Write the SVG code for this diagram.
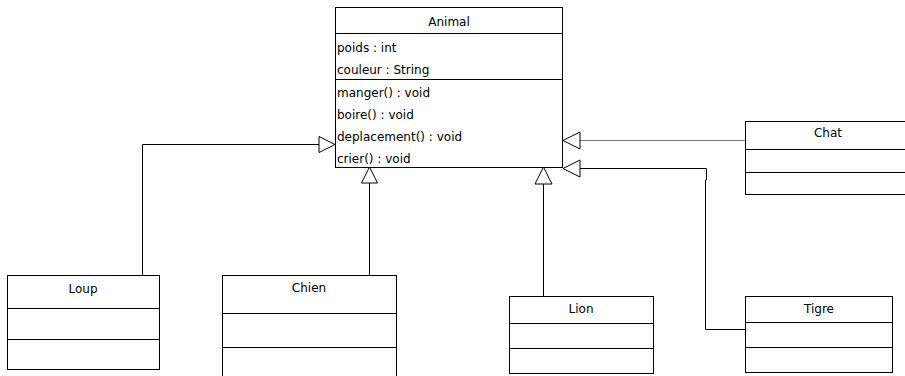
<svg xmlns="http://www.w3.org/2000/svg" width="905" height="376" viewBox="0 0 905 376">
<style>
.box{fill:#fff;stroke:#000;stroke-width:1}
.sep{stroke:#000;stroke-width:1}
.t{font-family:"DejaVu Sans","Liberation Sans",sans-serif;font-size:12px;fill:#000}
.c{text-anchor:middle}
.ln{fill:none;stroke:#000;stroke-width:1}
.hd{fill:#fff;stroke:#000;stroke-width:1}
</style>
<rect width="905" height="376" fill="#fff"/>
<g id="connectors">
<polyline class="ln" points="142.5,275 142.5,144.5 319,144.5"/>
<polygon class="hd" points="335,144.5 319,136.5 319,152.5"/>
<polyline class="ln" points="369.5,275 369.5,183"/>
<polygon class="hd" points="369.5,167 361.5,183 377.5,183"/>
<polyline class="ln" points="543.5,296 543.5,184"/>
<polygon class="hd" points="543.5,167 535,184 552,184"/>
<polyline class="ln" style="stroke:#777" points="745,140.5 580,140.5"/>
<polygon class="hd" points="563,140.5 580,132 580,149"/>
<polyline class="ln" points="745,329.5 705.5,329.5 705.5,180 706.5,180 706.5,168.5 580,168.5"/>
<polygon class="hd" points="563,168.5 580,160 580,177"/>
</g>
<g id="Animal">
<rect class="box" x="335.5" y="7.5" width="227" height="160"/>
<line class="sep" x1="335" y1="33.5" x2="562" y2="33.5"/>
<line class="sep" x1="335" y1="79.5" x2="562" y2="79.5"/>
<text class="t c" x="449" y="26">Animal</text>
<text class="t" x="337" y="52">poids : int</text>
<text class="t" x="337" y="74">couleur : String</text>
<text class="t" x="337" y="97">manger() : void</text>
<text class="t" x="337" y="119">boire() : void</text>
<text class="t" x="337" y="141">deplacement() : void</text>
<text class="t" x="337" y="163">crier() : void</text>
</g>
<g id="Loup">
<rect class="box" x="7.5" y="275.5" width="152" height="94"/>
<line class="sep" x1="7" y1="308.5" x2="160" y2="308.5"/>
<line class="sep" x1="7" y1="339.5" x2="160" y2="339.5"/>
<text class="t c" x="83" y="293">Loup</text>
</g>
<g id="Chien">
<rect class="box" x="222.5" y="275.5" width="174" height="110"/>
<line class="sep" x1="222" y1="313.5" x2="397" y2="313.5"/>
<line class="sep" x1="222" y1="347.5" x2="397" y2="347.5"/>
<text class="t c" x="309" y="292">Chien</text>
</g>
<g id="Lion">
<rect class="box" x="509.5" y="296.5" width="144" height="77"/>
<line class="sep" x1="509" y1="323.5" x2="654" y2="323.5"/>
<line class="sep" x1="509" y1="348.5" x2="654" y2="348.5"/>
<text class="t c" x="581" y="313">Lion</text>
</g>
<g id="Tigre">
<rect class="box" x="745.5" y="296.5" width="147" height="76"/>
<line class="sep" x1="745" y1="322.5" x2="893" y2="322.5"/>
<line class="sep" x1="745" y1="347.5" x2="893" y2="347.5"/>
<text class="t c" x="819" y="313">Tigre</text>
</g>
<g id="Chat">
<rect class="box" x="745.5" y="121.5" width="170" height="73"/>
<line class="sep" x1="745" y1="149.5" x2="905" y2="149.5"/>
<line class="sep" x1="745" y1="172.5" x2="905" y2="172.5"/>
<text class="t c" x="828" y="137">Chat</text>
</g>
</svg>
